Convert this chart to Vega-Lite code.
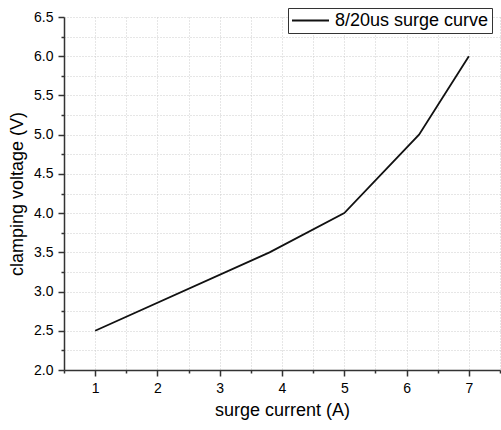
{
  "$schema": "https://vega.github.io/schema/vega-lite/v6.json",
  "width": 436,
  "height": 353,
  "autosize": "none",
  "padding": {"left": 64, "top": 17, "right": 1, "bottom": 60},
  "background": "white",
  "data": {
    "values": [
      {"current": 1, "voltage": 2.5, "series": "8/20us surge curve"},
      {"current": 3.8, "voltage": 3.5, "series": "8/20us surge curve"},
      {"current": 5, "voltage": 4.0, "series": "8/20us surge curve"},
      {"current": 6.2, "voltage": 5.0, "series": "8/20us surge curve"},
      {"current": 7, "voltage": 6.0, "series": "8/20us surge curve"}
    ]
  },
  "config": {
    "view": {"stroke": null},
    "font": "Liberation Sans",
    "axis": {
      "domainColor": "#333",
      "domainWidth": 1.5,
      "tickColor": "#333",
      "tickWidth": 1.5,
      "gridColor": "#cccccc",
      "gridDash": [1, 2],
      "gridWidth": 1,
      "labelFont": "Liberation Sans",
      "labelFontSize": 14,
      "labelColor": "#000",
      "titleFont": "Liberation Sans",
      "titleFontSize": 18,
      "titleFontWeight": "normal",
      "titleColor": "#000",
      "labelOverlap": false
    }
  },
  "mark": {"type": "line", "color": "#111", "strokeWidth": 1.8},
  "encoding": {
    "x": {
      "field": "current",
      "type": "quantitative",
      "scale": {"domain": [0.5, 7.5], "nice": false, "zero": false},
      "axis": {
        "title": "surge current (A)",
        "values": [0.5, 1, 1.5, 2, 2.5, 3, 3.5, 4, 4.5, 5, 5.5, 6, 6.5, 7, 7.5],
        "labelExpr": "datum.value % 1 === 0 ? format(datum.value, 'd') : ''",
        "tickSize": {"condition": {"test": "datum.value % 1 === 0", "value": 6}, "value": 3},
        "labelPadding": 5,
        "titlePadding": 6
      }
    },
    "y": {
      "field": "voltage",
      "type": "quantitative",
      "scale": {"domain": [2, 6.5], "nice": false, "zero": false},
      "axis": {
        "title": "clamping voltage (V)",
        "values": [2, 2.25, 2.5, 2.75, 3, 3.25, 3.5, 3.75, 4, 4.25, 4.5, 4.75, 5, 5.25, 5.5, 5.75, 6, 6.25, 6.5],
        "labelExpr": "datum.value % 0.5 === 0 ? format(datum.value, '.1f') : ''",
        "tickSize": {"condition": {"test": "datum.value % 0.5 === 0", "value": 6}, "value": 3},
        "labelPadding": 5,
        "titlePadding": 7
      }
    },
    "color": {
      "field": "series",
      "type": "nominal",
      "scale": {"range": ["#111"]},
      "legend": {
        "title": null,
        "orient": "none",
        "legendX": 224,
        "legendY": -9,
        "symbolType": "stroke",
        "symbolSize": 1369,
        "symbolStrokeWidth": 2,
        "clipHeight": 19,
        "labelFontSize": 18,
        "labelFont": "Liberation Sans",
        "labelColor": "#000",
        "labelLimit": 300,
        "strokeColor": "#333",
        "fillColor": "white",
        "padding": 3,
        "labelOffset": 5
      }
    }
  }
}
